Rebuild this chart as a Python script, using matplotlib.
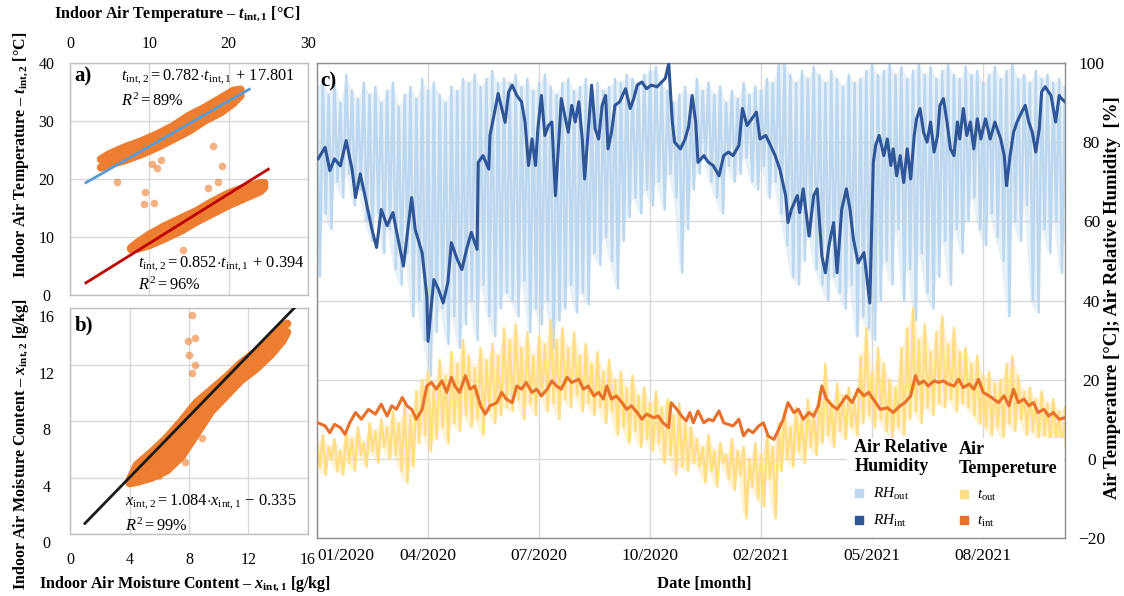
import numpy as np
import matplotlib
matplotlib.use('Agg')
import matplotlib.pyplot as plt
from matplotlib.patches import Rectangle
from matplotlib.lines import Line2D
from matplotlib.transforms import ScaledTranslation

plt.rcParams['font.family'] = ['Liberation Serif', 'DejaVu Serif']
plt.rcParams['mathtext.fontset'] = 'custom'
plt.rcParams['mathtext.rm'] = 'Liberation Serif'
plt.rcParams['mathtext.it'] = 'Liberation Serif:italic'
plt.rcParams['mathtext.bf'] = 'Liberation Serif:bold'
plt.rcParams['mathtext.bfit'] = 'Liberation Serif:italic:bold'

# ---- a) indoor temperature, sensor 1 vs sensor 2 (two clusters) ----
a_up_x = [3.9, 5, 7, 9, 11, 13, 15, 17, 19, 20.6, 21.5]
a_up_lo = [22.0, 22.5, 23.3, 24.3, 25.5, 26.9, 28.3, 30.1, 31.5, 33.1, 34.4]
a_up_hi = [23.4, 24.3, 25.5, 26.5, 27.7, 29.1, 30.9, 32.3, 33.9, 35.2, 35.4]
a_lo_x = [7.7, 8.5, 10, 12, 14, 16, 18, 20, 22, 24, 24.5]
a_lo_lo = [7.9, 8.0, 8.6, 9.8, 11.1, 12.7, 14.1, 15.5, 16.7, 17.9, 18.6]
a_lo_hi = [8.1, 9.0, 10.4, 11.9, 13.2, 14.5, 16.1, 17.5, 18.5, 19.3, 19.3]
a_out_x = [10.3, 11.0, 11.5, 5.9, 9.5, 9.3, 10.6, 18.0, 19.2, 18.7, 17.4, 14.3]
a_out_y = [22.6, 21.9, 23.3, 19.5, 17.8, 15.7, 15.9, 25.7, 22.3, 19.4, 18.5, 7.8]
fit_up = (0.782, 17.801, 89)
fit_lo = (0.852, 0.394, 96)

# ---- b) indoor moisture content ----
b_x = [4.0, 4.5, 5.5, 6.5, 7.5, 8.5, 9.5, 10.5, 11.5, 12.5, 13.5, 14.3, 14.6]
b_lo = [3.6, 3.7, 4.0, 4.5, 5.5, 7.1, 8.7, 9.8, 10.9, 11.7, 12.7, 13.7, 14.3]
b_hi = [3.8, 4.9, 5.8, 6.8, 8.0, 9.3, 10.2, 11.1, 12.1, 12.9, 13.8, 14.7, 14.9]
b_out_x = [8.2, 7.9, 8.4, 8.0, 8.4, 8.2, 6.0, 7.7, 8.9, 7.5, 6.4]
b_out_y = [15.5, 13.7, 13.9, 12.7, 12.0, 11.4, 4.1, 5.1, 6.8, 5.6, 4.5]
fit_b = (1.084, -0.335, 99)

# ---- c) time series, days from start of record ----
date_ticks = [0, 95, 190, 285, 380, 475, 570]
date_labels = ['01/2020', '04/2020', '07/2020', '10/2020', '02/2021', '05/2021', '08/2021']

rh_int_day = [1, 7, 11, 15, 20, 25, 30, 33, 37, 41, 47, 51, 55, 60, 65, 70, 74, 81, 84, 90,
              94, 95, 100, 104, 108, 112, 115, 120, 124, 128, 132, 137, 138, 142, 147, 148, 152, 155, 161, 164,
              167, 171, 175, 178, 181, 184, 187, 189, 192, 195, 198, 201, 204, 207, 209, 212, 215, 218, 221, 224,
              227, 229, 232, 235, 238, 241, 244, 247, 249, 252, 255, 259, 264, 268, 271, 274, 278, 282, 286, 291,
              295, 298, 301, 304, 306, 311, 315, 318, 321, 324, 326, 331, 335, 339, 344, 348, 352, 356, 361, 364,
              368, 372, 376, 379, 384, 388, 392, 396, 401, 403, 406, 411, 413, 416, 421, 425, 428, 432, 435, 438,
              442, 445, 449, 453, 456, 459, 463, 468, 471, 473, 476, 478, 481, 485, 488, 491, 493, 496, 499, 502,
              505, 508, 511, 513, 516, 519, 522, 525, 528, 531, 533, 536, 539, 542, 545, 548, 550, 553, 556, 559,
              562, 565, 568, 572, 576, 580, 585, 588, 590, 593, 596, 599, 603, 606, 609, 612, 615, 618, 620, 623,
              628, 632, 635, 637, 640]
rh_int = [75.8, 78.7, 72.8, 75.8, 74.0, 80.4, 73.2, 66.0, 72.0, 66.5, 58.0, 53.4, 63.0, 58.9, 62.2, 54.6, 48.7, 66.0, 58.0, 52.0,
          41.1, 29.7, 45.3, 42.8, 39.4, 44.6, 54.6, 50.4, 47.8, 52.9, 57.2, 52.9, 74.9, 76.6, 73.2, 81.7, 87.6, 92.3, 85.0, 92.7,
          94.4, 91.8, 90.2, 85.1, 74.1, 80.8, 74.1, 83.4, 91.8, 81.7, 84.2, 85.1, 66.5, 80.8, 91.0, 86.8, 82.5, 89.3, 85.1, 90.2,
          80.8, 70.7, 82.5, 94.4, 83.4, 80.8, 89.3, 91.8, 78.3, 82.5, 89.3, 90.2, 93.5, 88.5, 91.0, 94.4, 95.2, 93.5, 94.4, 94.0,
          95.2, 96.1, 99.9, 85.1, 80.0, 78.3, 80.8, 84.0, 91.8, 85.1, 74.9, 76.6, 74.9, 74.1, 71.5, 76.6, 77.5, 76.6, 79.2, 88.5,
          84.2, 85.9, 87.6, 80.8, 81.7, 79.2, 76.6, 73.2, 66.5, 59.7, 63.1, 66.5, 62.2, 68.2, 56.3, 66.5, 68.2, 51.2, 47.0, 53.8,
          59.7, 47.0, 63.1, 68.2, 63.1, 55.5, 49.5, 52.1, 44.5, 39.4, 74.9, 79.2, 81.7, 76.6, 80.8, 74.1, 78.3, 71.5, 76.6, 69.8,
          78.3, 70.7, 81.7, 85.9, 88.5, 82.5, 80.0, 85.1, 77.5, 81.7, 89.3, 91.0, 85.1, 78.3, 76.6, 85.1, 80.8, 88.5, 81.7, 85.1,
          78.3, 85.9, 80.8, 85.9, 80.8, 85.1, 80.8, 76.6, 69.0, 76.6, 82.5, 85.1, 87.6, 89.3, 85.1, 82.5, 77.5, 83.4, 92.7, 94.0,
          91.8, 85.1, 91.8, 91.0, 90.2]

t_int_day = [1, 7, 11, 15, 20, 24, 28, 33, 38, 44, 50, 55, 60, 64, 68, 73, 77, 81, 85, 90,
             94, 98, 102, 107, 111, 115, 118, 122, 127, 131, 135, 140, 144, 148, 154, 158, 162, 167, 171, 175,
             179, 184, 188, 192, 197, 201, 205, 209, 214, 218, 224, 228, 232, 237, 241, 245, 248, 252, 256, 261,
             265, 269, 274, 278, 282, 288, 292, 296, 301, 303, 308, 312, 316, 319, 322, 326, 331, 335, 339, 344,
             348, 352, 356, 361, 365, 369, 373, 378, 382, 386, 391, 395, 399, 403, 408, 412, 416, 421, 425, 429,
             432, 436, 441, 445, 449, 453, 458, 463, 468, 472, 478, 482, 488, 493, 499, 503, 508, 512, 515, 519,
             523, 528, 532, 536, 540, 545, 549, 553, 558, 562, 566, 570, 575, 579, 583, 588, 592, 596, 600, 605,
             609, 613, 617, 622, 626, 630, 635, 640]
t_int = [9.1, 8.3, 6.6, 8.7, 7.9, 6.2, 9.1, 11.7, 10.0, 12.5, 11.3, 13.8, 10.8, 13.4, 12.5, 15.5, 13.4, 12.5, 10.0, 12.5,
         18.4, 19.3, 17.6, 19.7, 16.8, 20.6, 18.4, 16.8, 21.0, 17.6, 18.4, 13.4, 11.3, 13.4, 14.2, 16.8, 15.1, 14.2, 18.4, 17.6,
         19.3, 16.8, 17.6, 15.9, 17.6, 19.7, 18.4, 17.6, 20.6, 19.3, 20.1, 17.6, 18.4, 15.9, 16.8, 15.1, 18.4, 15.1, 15.9, 14.2,
         12.5, 13.4, 11.7, 10.0, 11.3, 10.4, 10.8, 9.1, 7.9, 14.2, 12.5, 10.8, 9.6, 11.7, 9.1, 12.1, 9.1, 10.0, 9.6, 12.1,
         9.1, 8.7, 8.3, 10.0, 5.8, 7.4, 6.6, 8.3, 9.1, 5.8, 4.9, 7.4, 10.0, 14.2, 11.7, 12.5, 10.0, 11.7, 10.8, 13.4,
         18.4, 15.1, 13.4, 12.5, 14.2, 15.9, 14.2, 17.6, 15.9, 16.8, 14.2, 12.5, 12.9, 11.7, 13.4, 14.2, 15.9, 21.0, 18.9, 19.7,
         18.4, 19.7, 19.3, 19.7, 18.9, 18.4, 20.1, 18.0, 18.9, 17.6, 20.1, 16.8, 15.9, 15.1, 14.2, 15.9, 13.4, 17.6, 14.2, 15.1,
         13.4, 14.2, 11.7, 12.5, 10.8, 11.7, 10.0, 10.4]

# outdoor series: daily peaks and troughs on a 5-day grid
out_day = np.arange(0, 641, 5)
rh_out_hi = [94, 96, 92, 95, 90, 97, 93, 91, 95, 92, 94, 90, 93, 95, 89, 92, 94, 91, 96, 93, 95, 92, 90, 94, 93, 96, 95, 97, 94, 96, 98, 95, 96,
             95, 97, 94, 96, 93, 95, 97, 94, 92, 95, 96, 93, 94, 96, 92, 95, 93, 94, 96, 95, 97, 96, 95, 97, 98, 99, 95, 93, 90, 92, 94, 91,
             96, 93, 95, 92, 94, 90, 93, 91, 95, 92, 94, 93, 96, 95, 100, 100, 97, 95, 98, 96, 99, 97, 95, 98, 96, 94, 97, 95, 96, 98, 100, 97,
             98, 100, 97, 99, 96, 98, 100, 97, 99, 96, 98, 100, 97, 96, 99, 97, 98, 95, 97, 99, 96, 98, 100, 96, 97, 95, 98, 96, 97, 95, 96, 94]
rh_out_lo = [46, 62, 58, 70, 66, 72, 64, 68, 60, 55, 62, 52, 58, 48, 44, 52, 36, 40, 30, 21, 32, 38, 29, 36, 28, 34, 40, 30, 44, 36, 31, 38, 42,
             40, 36, 45, 32, 38, 34, 40, 28, 35, 38, 44, 37, 42, 39, 52, 49, 56, 50, 43, 55, 61, 66, 62, 68, 64, 70, 63, 72, 66, 47, 58, 68,
             72, 76, 70, 66, 62, 74, 70, 72, 76, 70, 68, 74, 66, 70, 62, 54, 46, 44, 50, 56, 48, 44, 40, 46, 42, 38, 44, 31, 36, 33, 30, 40,
             50, 44, 58, 40, 48, 35, 52, 42, 38, 46, 55, 44, 58, 52, 60, 66, 58, 54, 62, 56, 50, 36, 60, 55, 64, 40, 37, 58, 52, 60, 47, 56]
t_out_hi = [4, 6, 3, 5, 2, 7, 5, 8, 4, 9, 7, 10, 8, 12, 9, 14, 11, 17, 20, 22, 19, 25, 21, 27, 24, 30, 26, 23, 28, 25, 29, 26, 33,
            30, 34, 28, 32, 26, 31, 29, 35, 30, 33, 28, 32, 26, 29, 24, 27, 22, 25, 20, 22, 18, 21, 16, 18, 14, 17, 13, 15, 11, 14, 9, 8,
            5, 3, 6, 2, 4, 1, 5, 2, 3, 0, 4, 1, 6, 3, 9, 12, 8, 13, 10, 15, 12, 17, 24, 14, 19, 16, 18, 14, 26, 33, 22, 28,
            24, 20, 18, 28, 33, 38, 30, 34, 27, 32, 36, 29, 33, 27, 28, 24, 26, 21, 22, 19, 20, 24, 26, 21, 17, 18, 15, 17, 14, 15, 12, 13]
t_out_lo = [-2, -4, 0, -3, -4, -1, -3, 1, -2, 2, -1, 3, 0, 1, -3, -6, -2, 4, 6, 2, 5, 8, 4, 9, 7, 11, 8, 10, 6, 12, 9, 11, 13,
            12, 15, 10, 14, 11, 16, 12, 14, 10, 15, 13, 16, 12, 14, 11, 13, 9, 12, 6, 8, 4, 7, 3, 5, 2, 4, -1, 1, -4, -2, -3, -1,
            -2, -6, -3, -7, -1, -5, -8, -4, -15, -7, -10, -12, -5, -15, -3, 0, -2, 2, -1, 3, 1, 4, 6, 3, 7, 5, 8, 6, 9, 11, 8, 10,
            7, 5, 8, 6, 10, 12, 9, 13, 11, 14, 13, 15, 12, 14, 13, 11, 9, 8, 6, 8, 5, 9, 7, 10, 6, 7, 5, 6, 4, 5, 0, 3]

orange = '#ED7D31'
c_rh_out = '#BDD7EE'
c_rh_int = '#2F5597'
c_t_out = '#FFDE85'
c_t_int = '#E8702A'

fig = plt.figure(figsize=(11.24, 5.96), dpi=100)
ax_a = fig.add_axes([0.0623, 0.505, 0.2117, 0.3893])
ax_b = fig.add_axes([0.0623, 0.104, 0.2117, 0.379])
ax_c = fig.add_axes([0.282, 0.0973, 0.6655, 0.797])


def style_box(ax, edge):
    for s in ax.spines.values():
        s.set_color(edge)
        s.set_linewidth(1.0)
    ax.grid(True, color='#d9d9d9', linewidth=1.0)
    ax.set_axisbelow(True)
    ax.tick_params(length=0, labelsize=11.5)


def cloud(ax, xs, lo, hi):
    # dense point cloud: filled band with thick round-capped edges
    ax.fill_between(xs, lo, hi, color=orange, lw=0, zorder=2)
    for edge in (lo, hi):
        ax.plot(xs, edge, color=orange, lw=6, solid_capstyle='round',
                solid_joinstyle='round', zorder=2)


# panel a
style_box(ax_a, '#bfbfbf')
cloud(ax_a, a_up_x, a_up_lo, a_up_hi)
cloud(ax_a, a_lo_x, a_lo_lo, a_lo_hi)
ax_a.scatter(a_out_x, a_out_y, s=30, color=orange, alpha=0.6, lw=0, zorder=2)
xf = np.array([2.0, 22.6])
ax_a.plot(xf, fit_up[0] * xf + fit_up[1], color='#5B9BD5', lw=2, zorder=3)
xf = np.array([2.0, 25.0])
ax_a.plot(xf, fit_lo[0] * xf + fit_lo[1], color='#C00000', lw=2, zorder=3)
ax_a.set_xlim(0, 30)
ax_a.set_ylim(0, 40)
ax_a.set_xticks([0, 10, 20, 30])
ax_a.set_yticks([0, 10, 20, 30, 40])
ax_a.xaxis.tick_top()
ax_a.tick_params(axis='x', pad=8)
ax_a.tick_params(axis='y', pad=17)
for t in ax_a.get_yticklabels():
    t.set_ha('center')
ax_a.text(0.02, 0.94, 'a)', transform=ax_a.transAxes, fontsize=15, fontweight='bold', va='center')
ax_a.text(0.215, 0.94, r'$t_{\mathrm{int,2}} = %.3f{\cdot}t_{\mathrm{int,1}}\,+\,%.3f$' % fit_up[:2],
          transform=ax_a.transAxes, fontsize=11.8, va='center')
ax_a.text(0.215, 0.835, r'$R^2 = %d$%%' % fit_up[2], transform=ax_a.transAxes, fontsize=11.8, va='center')
ax_a.text(0.285, 0.135, r'$t_{\mathrm{int,2}} = %.3f{\cdot}t_{\mathrm{int,1}}\,+\,%.3f$' % fit_lo[:2],
          transform=ax_a.transAxes, fontsize=11.8, va='center')
ax_a.text(0.285, 0.04, r'$R^2 = %d$%%' % fit_lo[2], transform=ax_a.transAxes, fontsize=11.8, va='center')

# panel b
style_box(ax_b, '#bfbfbf')
cloud(ax_b, b_x, b_lo, b_hi)
ax_b.scatter(b_out_x, b_out_y, s=30, color=orange, alpha=0.6, lw=0, zorder=2)
xf = np.array([1.0, 15.1])
ax_b.plot(xf, fit_b[0] * xf + fit_b[1], color='#1a1a1a', lw=2, zorder=3)
ax_b.set_xlim(0, 16)
ax_b.set_ylim(0, 16)
ax_b.set_xticks([0, 4, 8, 12, 16])
ax_b.set_yticks([0, 4, 8, 12, 16])
ax_b.tick_params(axis='x', pad=13)
ax_b.tick_params(axis='y', pad=17)
shift = ScaledTranslation(0, -6 / 72, fig.dpi_scale_trans)
for t in ax_b.get_yticklabels():
    t.set_ha('center')
    t.set_transform(t.get_transform() + shift)
ax_b.text(0.02, 0.925, 'b)', transform=ax_b.transAxes, fontsize=15, fontweight='bold', va='center')
ax_b.text(0.23, 0.142, r'$x_{\mathrm{int,2}} = %.3f{\cdot}x_{\mathrm{int,1}}\,-\,%.3f$' % (fit_b[0], -fit_b[1]),
          transform=ax_b.transAxes, fontsize=11.8, va='center')
ax_b.text(0.23, 0.035, r'$R^2 = %d$%%' % fit_b[2], transform=ax_b.transAxes, fontsize=11.8, va='center')

# panel c
style_box(ax_c, '#8c8c8c')
zx = np.ravel(np.column_stack([out_day, out_day + 2.5]))
ax_c.fill_between(out_day, rh_out_lo, rh_out_hi, color=c_rh_out, alpha=0.35, lw=0, zorder=2)
ax_c.plot(zx, np.ravel(np.column_stack([rh_out_hi, rh_out_lo])), color=c_rh_out, lw=1.8, zorder=2)
ax_c.plot(rh_int_day, rh_int, color=c_rh_int, lw=2.2, zorder=3)
ax_c.fill_between(out_day, t_out_lo, t_out_hi, color=c_t_out, alpha=0.35, lw=0, zorder=2)
ax_c.plot(zx, np.ravel(np.column_stack([t_out_hi, t_out_lo])), color=c_t_out, lw=1.8, zorder=2)
ax_c.plot(t_int_day, t_int, color=c_t_int, lw=2.2, zorder=3)
ax_c.set_xlim(0, 640)
ax_c.set_ylim(-20, 100)
ax_c.set_xticks(date_ticks)
ax_c.set_xticklabels(date_labels)
ax_c.get_xticklabels()[0].set_ha('left')
ax_c.set_yticks(range(-20, 101, 20))
ax_c.yaxis.tick_right()
ax_c.tick_params(labelsize=12.5)
ax_c.tick_params(axis='x', pad=7)
ax_c.tick_params(axis='y', pad=19)
for t in ax_c.get_yticklabels():
    t.set_ha('center')
ax_c.text(0.004, 0.962, 'c)', transform=ax_c.transAxes, fontsize=15, fontweight='bold', va='center')

# legend block in the lower right corner
ax_c.add_patch(Rectangle((0.709, 0.002), 0.29, 0.208, transform=ax_c.transAxes,
                         facecolor='white', edgecolor='none', zorder=4))
h_rh = [Line2D([], [], ls='', marker='s', ms=6, color=c_rh_out, label=r'$RH_{\mathrm{out}}$'),
        Line2D([], [], ls='', marker='s', ms=6, color=c_rh_int, label=r'$RH_{\mathrm{int}}$')]
h_t = [Line2D([], [], ls='', marker='s', ms=6, color=c_t_out, label=r'$t_{\mathrm{out}}$'),
       Line2D([], [], ls='', marker='s', ms=6, color=c_t_int, label=r'$t_{\mathrm{int}}$')]
leg_kw = dict(loc='lower left', frameon=False, fontsize=11,
              title_fontproperties={'weight': 'bold', 'size': 13},
              handlelength=0.6, handletextpad=0.6, labelspacing=0.7, alignment='left')
leg1 = ax_c.legend(handles=h_rh, title='Air Relative\nHumidity', bbox_to_anchor=(0.7, -0.01), **leg_kw)
leg1.set_zorder(5)
ax_c.add_artist(leg1)
leg2 = ax_c.legend(handles=h_t, title='Air\nTempereture', bbox_to_anchor=(0.84, -0.01), **leg_kw)
leg2.set_zorder(5)

# axis titles
lab = dict(fontsize=11.5, fontweight='bold', ha='center', va='center')
fig.text(0.158, 0.976, r'Indoor Air Temperature – $\mathbfit{t}_{\mathbf{int,1}}$ [°C]', **lab)
fig.text(0.019, 0.74, r'Indoor Air Temperature – $\mathbfit{t}_{\mathbf{int,2}}$ [°C]', rotation=90, **lab)
fig.text(0.019, 0.255, r'Indoor Air Moisture Content – $\mathbfit{x}_{\mathbf{int,2}}$ [g/kg]', rotation=90, **lab)
fig.text(0.165, 0.02, r'Indoor Air Moisture Content – $\mathbfit{x}_{\mathbf{int,1}}$ [g/kg]', **lab)
fig.text(0.627, 0.02, 'Date [month]', fontsize=12, fontweight='bold', ha='center', va='center')
fig.text(0.99, 0.5, 'Air Temperature [°C]; Air Relative Humidity  [%]',
         fontsize=13.5, fontweight='bold', ha='center', va='center', rotation=90)

fig.savefig('out.png', dpi=100)
